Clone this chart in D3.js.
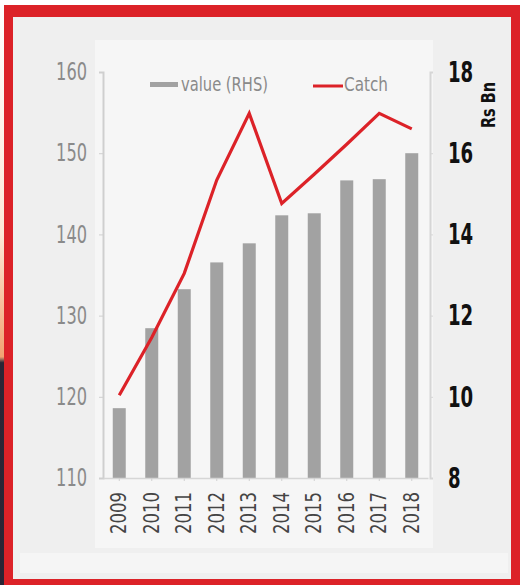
<!DOCTYPE html>
<html>
<head>
<meta charset="utf-8">
<script src="https://cdn.jsdelivr.net/npm/d3@7/dist/d3.min.js"></script>
<style>
  html, body { margin: 0; padding: 0; background: #ffffff; }
  svg { display: block; }
</style>
</head>
<body>
<svg id="chart" width="520" height="585"></svg>
<script>
// ---- data ----
const years = ["2009", "2010", "2011", "2012", "2013", "2014", "2015", "2016", "2017", "2018"];
const valueRHS = [9.72, 11.69, 12.65, 13.31, 13.78, 14.47, 14.52, 15.33, 15.36, 16.0];
const catchLHS = [120.2, 127.3, 135.2, 146.7, 154.9, 143.8, 147.4, 151.1, 154.9, 153.0];
const leftTicks = [110, 120, 130, 140, 150, 160];
const rightTicks = [8, 10, 12, 14, 16, 18];
const legendLabels = ["value (RHS)", "Catch"];
const unitLabel = "Rs Bn";

const FONT = '"DejaVu Sans Condensed", "Liberation Sans Narrow", "DejaVu Sans", sans-serif';
const RED = "#dc2228";
const BAR = "#a2a2a2";

const svg = d3.select("#chart");

// ---- frame / background ----
const defs = svg.append("defs");
const grad = defs.append("linearGradient").attr("id", "edge").attr("x1", 0).attr("y1", 0).attr("x2", 0).attr("y2", 1);
grad.append("stop").attr("offset", "0").attr("stop-color", "#ffffff");
grad.append("stop").attr("offset", "0.4").attr("stop-color", "#fde8d8");
grad.append("stop").attr("offset", "0.61").attr("stop-color", "#f2a271");
grad.append("stop").attr("offset", "0.62").attr("stop-color", "#2c2636");
grad.append("stop").attr("offset", "1").attr("stop-color", "#2a2535");

svg.append("rect").attr("x", 0).attr("y", 0).attr("width", 520).attr("height", 585).attr("fill", "#ffffff");
svg.append("rect").attr("x", 0).attr("y", 0).attr("width", 5).attr("height", 585).attr("fill", "url(#edge)");
// inner background
svg.append("rect").attr("x", 12).attr("y", 16).attr("width", 500).attr("height", 564).attr("fill", "#efefef");
// lighter panels
svg.append("rect").attr("x", 95).attr("y", 40).attr("width", 338).attr("height", 508).attr("fill", "#f6f6f6");
svg.append("rect").attr("x", 20).attr("y", 553).attr("width", 488).attr("height", 20).attr("fill", "#f5f5f5");
// red border
svg.append("rect").attr("x", 4).attr("y", 5).attr("width", 516).attr("height", 12).attr("fill", RED);
svg.append("rect").attr("x", 4).attr("y", 5).attr("width", 9).attr("height", 580).attr("fill", RED);
svg.append("rect").attr("x", 511).attr("y", 5).attr("width", 9).attr("height", 580).attr("fill", RED);
svg.append("rect").attr("x", 4).attr("y", 579).attr("width", 516).attr("height", 6).attr("fill", RED);

// ---- scales ----
const x = d3.scaleBand().domain(years).range([103, 428]).paddingInner(0.6).paddingOuter(0.3);
const yL = d3.scaleLinear().domain([110, 160]).range([478, 72]);
const yR = d3.scaleLinear().domain([8, 18]).range([478, 72]);

// ---- bars ----
svg.append("g").selectAll("rect").data(years).join("rect")
  .attr("x", d => x(d))
  .attr("width", x.bandwidth())
  .attr("y", (d, i) => yR(valueRHS[i]))
  .attr("height", (d, i) => yR(8) - yR(valueRHS[i]))
  .attr("fill", BAR);

// ---- line ----
const line = d3.line()
  .x((d, i) => x(years[i]) + x.bandwidth() / 2)
  .y(d => yL(d));
svg.append("path").datum(catchLHS)
  .attr("d", line)
  .attr("fill", "none")
  .attr("stroke", RED)
  .attr("stroke-width", 3.2)
  .attr("stroke-linejoin", "miter");

// ---- axes ----
const gL = svg.append("g").attr("transform", "translate(103,0)")
  .call(d3.axisLeft(yL).tickValues(leftTicks).tickSize(4).tickPadding(12).tickFormat(d3.format("d")));
gL.select(".domain").attr("stroke", "#cfcfcf").attr("stroke-width", 2);
gL.selectAll(".tick line").attr("stroke", "#cfcfcf");
gL.selectAll("text").attr("font-family", FONT).attr("font-size", 24).attr("fill", "#8a8a8a")
  .attr("textLength", d => String(d).length * 10.3).attr("lengthAdjust", "spacingAndGlyphs");

const gR = svg.append("g").attr("transform", "translate(430,0)")
  .call(d3.axisRight(yR).tickValues(rightTicks).tickSize(3).tickPadding(15).tickFormat(d3.format("d")));
gR.select(".domain").attr("stroke", "#d6d6d6").attr("stroke-width", 2);
gR.selectAll(".tick line").attr("stroke", "#d6d6d6");
gR.selectAll("text").attr("font-family", FONT).attr("font-size", 29).attr("font-weight", "bold").attr("fill", "#111111")
  .attr("textLength", d => String(d).length * 12.6).attr("lengthAdjust", "spacingAndGlyphs");

const gX = svg.append("g").attr("transform", "translate(0,478)")
  .call(d3.axisBottom(x).tickSize(3).tickSizeOuter(0));
gX.select(".domain").attr("stroke", "#d6d6d6").attr("stroke-width", 1.5);
gX.selectAll(".tick line").attr("stroke", "#d0d0d0");
gX.selectAll("text")
  .attr("font-family", FONT).attr("font-size", 20.5).attr("fill", "#444444")
  .attr("transform", "rotate(-90)")
  .attr("text-anchor", "end")
  .attr("x", -14).attr("y", 0).attr("dy", "0.35em")
  .attr("textLength", 42).attr("lengthAdjust", "spacingAndGlyphs");

// ---- unit label ----
svg.append("text")
  .attr("transform", "translate(488,105) rotate(-90)")
  .attr("text-anchor", "middle").attr("dy", "0.35em")
  .attr("font-family", FONT).attr("font-size", 19).attr("font-weight", "bold").attr("fill", "#111111")
  .attr("textLength", 46).attr("lengthAdjust", "spacingAndGlyphs")
  .text(unitLabel);

// ---- legend ----
const lg = svg.append("g");
lg.append("rect").attr("x", 150).attr("y", 82).attr("width", 28).attr("height", 5).attr("fill", BAR);
lg.append("text").attr("x", 181).attr("y", 84).attr("dy", "0.35em")
  .attr("font-family", FONT).attr("font-size", 20).attr("fill", "#8a8a8a")
  .attr("textLength", 87).attr("lengthAdjust", "spacingAndGlyphs")
  .text(legendLabels[0]);
lg.append("line").attr("x1", 313).attr("x2", 343).attr("y1", 86).attr("y2", 86)
  .attr("stroke", RED).attr("stroke-width", 3);
lg.append("text").attr("x", 344).attr("y", 84).attr("dy", "0.35em")
  .attr("font-family", FONT).attr("font-size", 20).attr("fill", "#8a8a8a")
  .attr("textLength", 44).attr("lengthAdjust", "spacingAndGlyphs")
  .text(legendLabels[1]);
</script>
</body>
</html>
